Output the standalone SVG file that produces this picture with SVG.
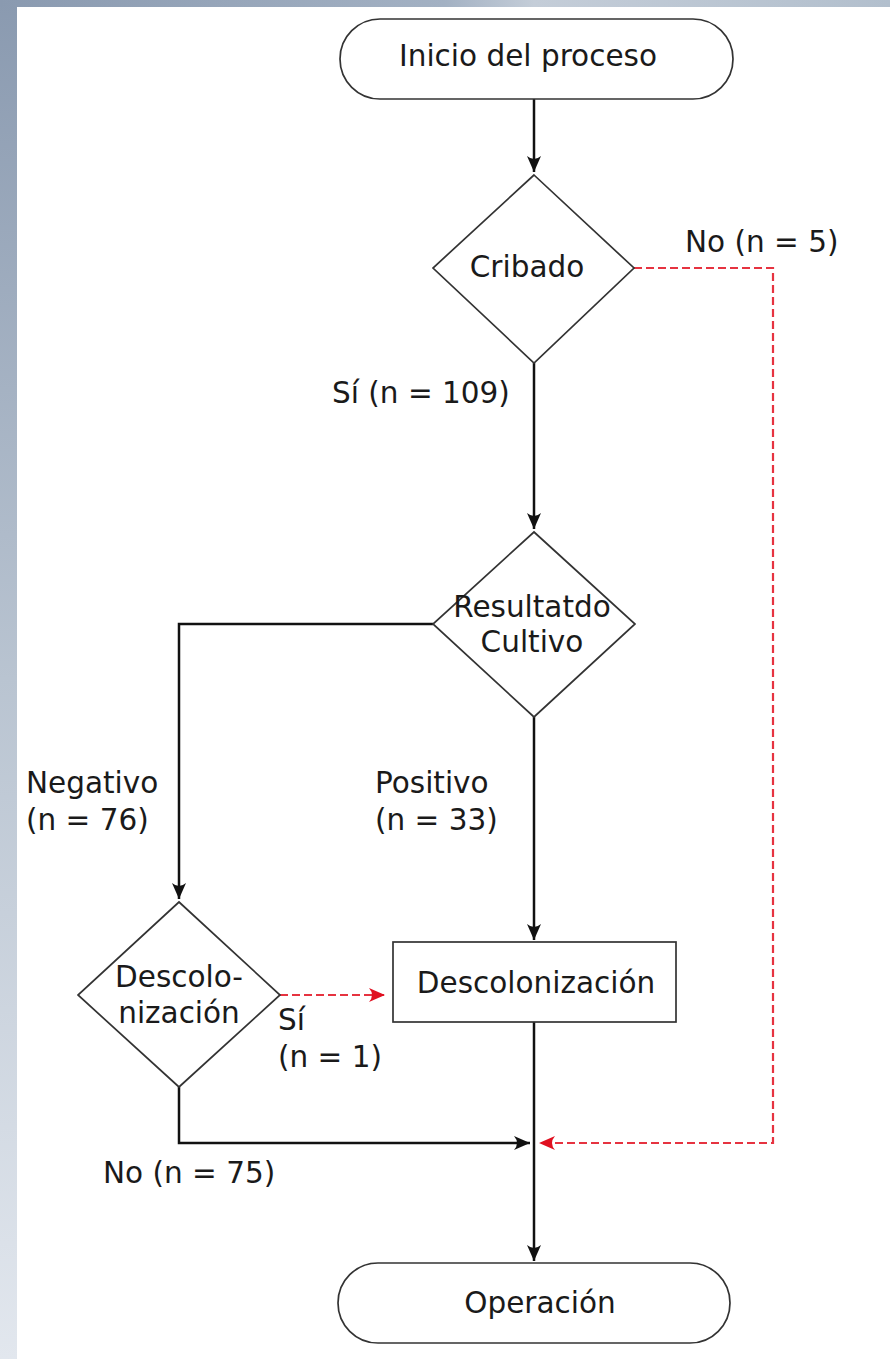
<svg xmlns="http://www.w3.org/2000/svg" width="890" height="1359" viewBox="0 0 890 1359">
<style>
.t{font-family:"DejaVu Sans",sans-serif;font-size:29.5px;fill:#1a1a1a}
.m{text-anchor:middle}
.sh{fill:#fff;stroke:#333;stroke-width:1.7}
.c{fill:none;stroke:#111;stroke-width:2.5}
.r{fill:none;stroke:#e63340;stroke-width:2.2;stroke-dasharray:8,4}
</style>
<defs>
<linearGradient id="lb" x1="0" y1="0" x2="0" y2="1">
<stop offset="0" stop-color="#8a9ab0"/>
<stop offset="0.5" stop-color="#b9c4d1"/>
<stop offset="1" stop-color="#e2e7ee"/>
</linearGradient>
<linearGradient id="tb" x1="0" y1="0" x2="1" y2="0">
<stop offset="0" stop-color="#8a9ab0"/>
<stop offset="0.5" stop-color="#a3b1c3"/>
<stop offset="0.6" stop-color="#c4cdd8"/>
<stop offset="1" stop-color="#b2bfcd"/>
</linearGradient>
<marker id="ab" markerUnits="userSpaceOnUse" viewBox="-17 -8 18 16" refX="0" refY="0" markerWidth="18" markerHeight="16" orient="auto">
<path d="M0,0 L-16,-7 Q-10,0 -16,7 Z" fill="#111"/>
</marker>
<marker id="ar" markerUnits="userSpaceOnUse" viewBox="-17 -8 18 16" refX="0" refY="0" markerWidth="18" markerHeight="16" orient="auto">
<path d="M0,0 L-16,-7 Q-10,0 -16,7 Z" fill="#e01020"/>
</marker>
</defs>
<rect x="0" y="0" width="890" height="1359" fill="#fff"/>
<rect x="0" y="0" width="17" height="1359" fill="url(#lb)"/>
<rect x="0" y="0" width="890" height="7" fill="url(#tb)"/>

<g id="connectors">
<line class="c" x1="534" y1="99" x2="534" y2="172" marker-end="url(#ab)"/>
<line class="c" x1="534" y1="363" x2="534" y2="529" marker-end="url(#ab)"/>
<polyline class="c" points="433,624 179,624 179,899" marker-end="url(#ab)"/>
<line class="c" x1="534" y1="717" x2="534" y2="940" marker-end="url(#ab)"/>
<polyline class="c" points="179,1087 179,1143 530,1143" marker-end="url(#ab)"/>
<line class="c" x1="534" y1="1022" x2="534" y2="1261" marker-end="url(#ab)"/>
<polyline class="r" points="634,268 773,268 773,1143 539,1143" marker-end="url(#ar)"/>
<line class="r" x1="280" y1="995" x2="385" y2="995" marker-end="url(#ar)"/>
<text class="t" x="685" y="252">No (n = 5)</text>
<text class="t" x="332" y="403">Sí (n = 109)</text>
<text class="t" x="26" y="793">Negativo</text>
<text class="t" x="26" y="830">(n = 76)</text>
<text class="t" x="375" y="793">Positivo</text>
<text class="t" x="375" y="830">(n = 33)</text>
<text class="t" x="278" y="1030">Sí</text>
<text class="t" x="278" y="1067">(n = 1)</text>
<text class="t" x="103" y="1183">No (n = 75)</text>
</g>

<g id="inicio">
<rect class="sh" x="340" y="19" width="393" height="80" rx="40" ry="40"/>
<text class="t m" x="528" y="66">Inicio del proceso</text>
</g>
<g id="cribado">
<polygon class="sh" points="534,175 634,268 534,363 433,268"/>
<text class="t m" x="527" y="277">Cribado</text>
</g>
<g id="resultado">
<polygon class="sh" points="534,532 635,624 534,717 433,624"/>
<text class="t m" x="532" y="617">Resultatdo</text>
<text class="t m" x="532" y="652">Cultivo</text>
</g>
<g id="descolonizacion-decision">
<polygon class="sh" points="179,902 280,995 179,1087 78,995"/>
<text class="t m" x="179" y="987">Descolo-</text>
<text class="t m" x="179" y="1023">nización</text>
</g>
<g id="descolonizacion">
<rect class="sh" x="393" y="942" width="283" height="80"/>
<text class="t m" x="536" y="993">Descolonización</text>
</g>
<g id="operacion">
<rect class="sh" x="338" y="1263" width="392" height="80" rx="40" ry="40"/>
<text class="t m" x="540" y="1313">Operación</text>
</g>
</svg>
